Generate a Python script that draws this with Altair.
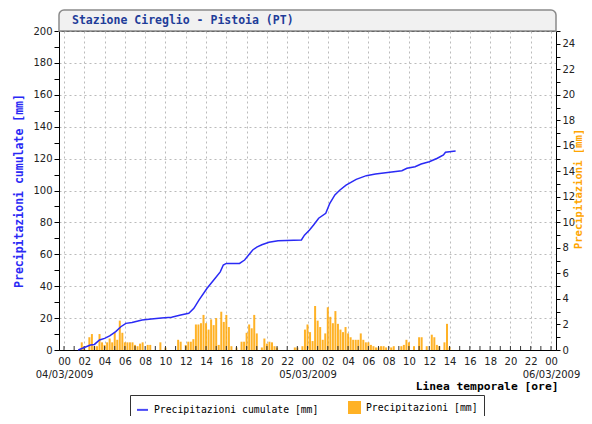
import altair as alt
import pandas as pd

TITLE = "Stazione Cireglio - Pistoia (PT)"
SERIES = ["Precipitazioni cumulate [mm]", "Precipitazioni [mm]"]
DATES = ["04/03/2009", "05/03/2009", "06/03/2009"]

# cumulative rain: hours since 04/03/2009 00:00, mm
cum_hours = [1.4, 2.6, 3.0, 3.5, 4.0, 4.5, 5.1, 5.6, 6.1, 6.7, 7.7, 8.6, 9.6, 10.6,
             11.5, 12.3, 12.8, 13.3, 14.1, 14.9, 15.4, 15.7, 16.0, 17.3, 17.8, 18.2,
             18.6, 19.0, 19.5, 20.2, 21.1, 23.4, 23.7, 24.2, 24.6, 25.1, 25.8, 26.2,
             26.7, 27.2, 27.8, 28.8, 29.8, 30.7, 31.7, 33.3, 33.8, 34.6, 35.2, 36.0,
             36.8, 37.4, 37.6, 38.6]
cum_mm = [0.0, 3.1, 3.5, 6.3, 7.3, 8.8, 11.5, 14.6, 16.7, 17.3, 18.8, 19.4, 20.1, 20.5,
          21.9, 23.0, 26.1, 31.3, 38.7, 45.0, 49.0, 53.3, 54.3, 54.3, 56.4, 59.6,
          62.7, 64.5, 66.0, 67.5, 68.5, 69.0, 72.0, 75.2, 78.4, 82.6, 85.7, 92.0,
          97.2, 100.3, 103.4, 107.0, 109.3, 110.3, 111.2, 112.4, 113.9, 114.9, 116.6, 118.0,
          120.2, 122.3, 124.0, 124.8]

# 15-minute rain: hours since 04/03/2009 00:00, mm
bar_hours = [1.75, 2.0, 2.5, 2.75, 3.0, 3.25, 3.5, 3.75, 4.0, 4.25, 4.5, 4.75, 5.0, 5.25,
             5.5, 5.75, 6.0, 6.25, 6.5, 6.75, 7.0, 7.25, 7.5, 7.75, 8.25, 8.5, 9.5, 10.0,
             11.25, 11.5, 12.0, 12.25, 12.5, 12.75, 13.0, 13.25, 13.5, 13.75, 14.0, 14.25,
             14.5, 14.75, 15.0, 15.25, 15.5, 15.75, 16.0, 16.25, 16.5, 17.0, 17.5, 17.75,
             18.0, 18.25, 18.5, 18.75, 19.0, 19.5, 19.75, 20.0, 20.25, 20.5, 20.75, 21.0,
             22.75, 23.0, 23.5, 23.75, 24.0, 24.25, 24.5, 24.75, 25.0, 25.25, 25.5, 25.75,
             26.0, 26.25, 26.5, 26.75, 27.0, 27.25, 27.5, 27.75, 28.0, 28.25, 28.5, 28.75,
             29.0, 29.25, 29.5, 29.75, 30.0, 30.25, 30.5, 30.75, 31.0, 31.25, 31.5, 31.75,
             32.25, 32.5, 33.25, 33.5, 33.75, 34.0, 34.5, 35.0, 35.25, 35.75, 36.25, 36.5,
             36.75, 37.0, 37.5, 37.75, 38.0]
bar_mm = [0.6, 0.3, 1.0, 1.25, 0.3, 0.3, 1.25, 0.6, 0.4, 0.6, 0.9, 0.6, 1.35, 0.8,
          2.3, 1.35, 0.6, 0.6, 0.6, 0.6, 0.4, 0.3, 0.5, 0.6, 0.4, 0.4, 0.6, 0.2,
          0.8, 0.65, 0.4, 0.65, 0.65, 0.85, 2.0, 2.0, 2.1, 2.75, 2.1, 1.6,
          2.4, 1.95, 2.5, 0.4, 3.0, 2.2, 2.75, 1.8, 0.3, 0.2, 0.65, 0.65,
          1.35, 2.0, 1.7, 2.75, 1.3, 0.2, 0.9, 0.5, 0.65, 0.6, 0.3, 0.2,
          0.2, 0.2, 0.3, 1.6, 2.0, 1.4, 0.7, 3.45, 2.3, 1.8, 0.8, 1.3,
          3.35, 2.6, 2.1, 3.05, 2.05, 1.6, 1.4, 1.8, 1.3, 1.0, 0.8, 0.8,
          0.8, 1.3, 0.8, 0.6, 0.6, 0.4, 0.3, 0.2, 0.2, 0.3, 0.3, 0.2,
          0.2, 0.3, 0.3, 0.4, 0.8, 0.6, 0.3, 1.0, 1.0, 0.3, 1.2, 1.0,
          0.4, 0.3, 0.6, 2.05, 0.2]

hour_ticks = list(range(0, 49))
label_hours = list(range(0, 49, 2))

BLUE = "#2a2af5"
ORANGE = "#ffa500"
MONO = "DejaVu Sans Mono"

line_df = pd.DataFrame({"ora": cum_hours, "mm": cum_mm, "serie": SERIES[0]})
bar_df = pd.DataFrame({"ora": bar_hours, "mm": bar_mm, "serie": SERIES[1]})
tick_df = pd.DataFrame({"ora": hour_ticks})
header_df = pd.DataFrame({"titolo": [TITLE]})

W, H = 497, 319
PAD_L = 51

date_expr = " : ".join(
    [f"datum.value == {24 * i} ? '{d}'" for i, d in enumerate(DATES[:-1])] + [f"'{DATES[-1]}'"]
)
x_label_expr = (
    "datum.value % 24 == 0 ? ['00', " + date_expr + "] : "
    "((datum.value % 24) < 10 ? '0' : '') + (datum.value % 24)"
)

x_scale = alt.Scale(domain=[0, 48], nice=False, zero=False)
x_axis = alt.Axis(
    values=label_hours, labelExpr=x_label_expr, ticks=False, labelPadding=6,
    labelLineHeight=13, labelOverlap=False, grid=True, gridDash=[2, 3], gridColor="#bbbbbb",
    title="Linea temporale [ore]", titleFont=MONO, titleFontSize=11.3,
    titleFontWeight="bold", titleColor="#000", titleAnchor="end", titleAlign="right",
    titleX=W + 2, titleY=39, titleBaseline="alphabetic",
)
color_scale = alt.Scale(domain=SERIES, range=[BLUE, ORANGE])
shape_scale = alt.Scale(domain=SERIES, range=["stroke", "square"])

legend_props = dict(orient="none", legendX=130 - 8 - PAD_L, legendY=364, direction="horizontal",
                    title=None, strokeColor="#333333", fillColor="white",
                    padding=6, columnPadding=26, symbolSize=121,
                    symbolStrokeWidth=2, labelFont=MONO, labelFontSize=9.75,
                    labelColor="#000", labelOffset=5, labelLimit=300)

header_rect = alt.Chart(header_df).mark_rect(
    fill="#f1f1f1", stroke="#8a8a8a", strokeWidth=1.5, cornerRadiusTopLeft=5, cornerRadiusTopRight=5
).encode(x=alt.value(0), x2=alt.value(W), y=alt.value(-21), y2=alt.value(0))

header_text = alt.Chart(header_df).mark_text(
    font=MONO, fontSize=11.5, fontWeight="bold", color="#1f3d99", align="left", baseline="middle"
).encode(x=alt.value(13), y=alt.value(-10), text="titolo:N")

ticks = alt.Chart(tick_df).mark_rule(color="#333333", strokeWidth=1).encode(
    x=alt.X("ora:Q", scale=x_scale, axis=x_axis),
    y=alt.value(H), y2=alt.value(H - 4),
)

bars = alt.Chart(bar_df).mark_bar(size=2, opacity=0.85).encode(
    x=alt.X("ora:Q", scale=x_scale, axis=x_axis),
    y=alt.Y("mm:Q", scale=alt.Scale(domain=[0, 25], nice=False),
            axis=alt.Axis(orient="right", values=list(range(0, 26)),
                          labelExpr="datum.value % 2 == 0 ? datum.label : ''",
                          tickSize=4, labelPadding=2, grid=False, title=SERIES[1],
                          titleColor=ORANGE, titleFont=MONO, titleFontSize=10.5,
                          titleFontWeight="bold", titleAngle=270,
                          titleBaseline="alphabetic", titleX=25, titleY=H / 2 - 2,
                          titleAlign="center")),
    color=alt.Color("serie:N", scale=color_scale, legend=alt.Legend(**legend_props)),
)

line = alt.Chart(line_df).mark_line(strokeWidth=1.5).encode(
    x=alt.X("ora:Q", scale=x_scale, axis=x_axis),
    y=alt.Y("mm:Q", scale=alt.Scale(domain=[0, 200], nice=False),
            axis=alt.Axis(orient="left", values=list(range(0, 201, 10)),
                          labelExpr="datum.value % 20 == 0 ? datum.label : ''",
                          tickSize=5, grid=True, gridDash=[2, 3], gridColor="#bbbbbb",
                          gridOpacity={"condition": {"test": "datum.value % 20 == 0", "value": 1}, "value": 0},
                          title=SERIES[0], titleColor=BLUE, titleFont=MONO,
                          titleFontSize=11.5, titleFontWeight="bold", titlePadding=8)),
    color=alt.Color("serie:N", scale=color_scale, legend=alt.Legend(**legend_props)),
)

legend_layer = alt.Chart(line_df).mark_point(filled=True).encode(
    color=alt.Color("serie:N", scale=color_scale, legend=alt.Legend(**legend_props)),
    shape=alt.Shape("serie:N", scale=shape_scale, legend=alt.Legend(**legend_props)),
).transform_filter("false")

chart = alt.layer(header_rect, header_text, bars, ticks, line, legend_layer).resolve_scale(
    y="independent"
).properties(
    width=W, height=H, autosize="none",
    padding={"left": PAD_L, "top": 23, "right": 576 - PAD_L - W, "bottom": 66},
    background="white",
).configure_view(stroke="#000", strokeWidth=1).configure_axis(
    labelFont="DejaVu Sans", labelFontSize=10, labelColor="#222222",
    domainColor="#000", tickColor="#000",
)

chart.save("out.html", embed_options={"renderer": "svg", "actions": False})
